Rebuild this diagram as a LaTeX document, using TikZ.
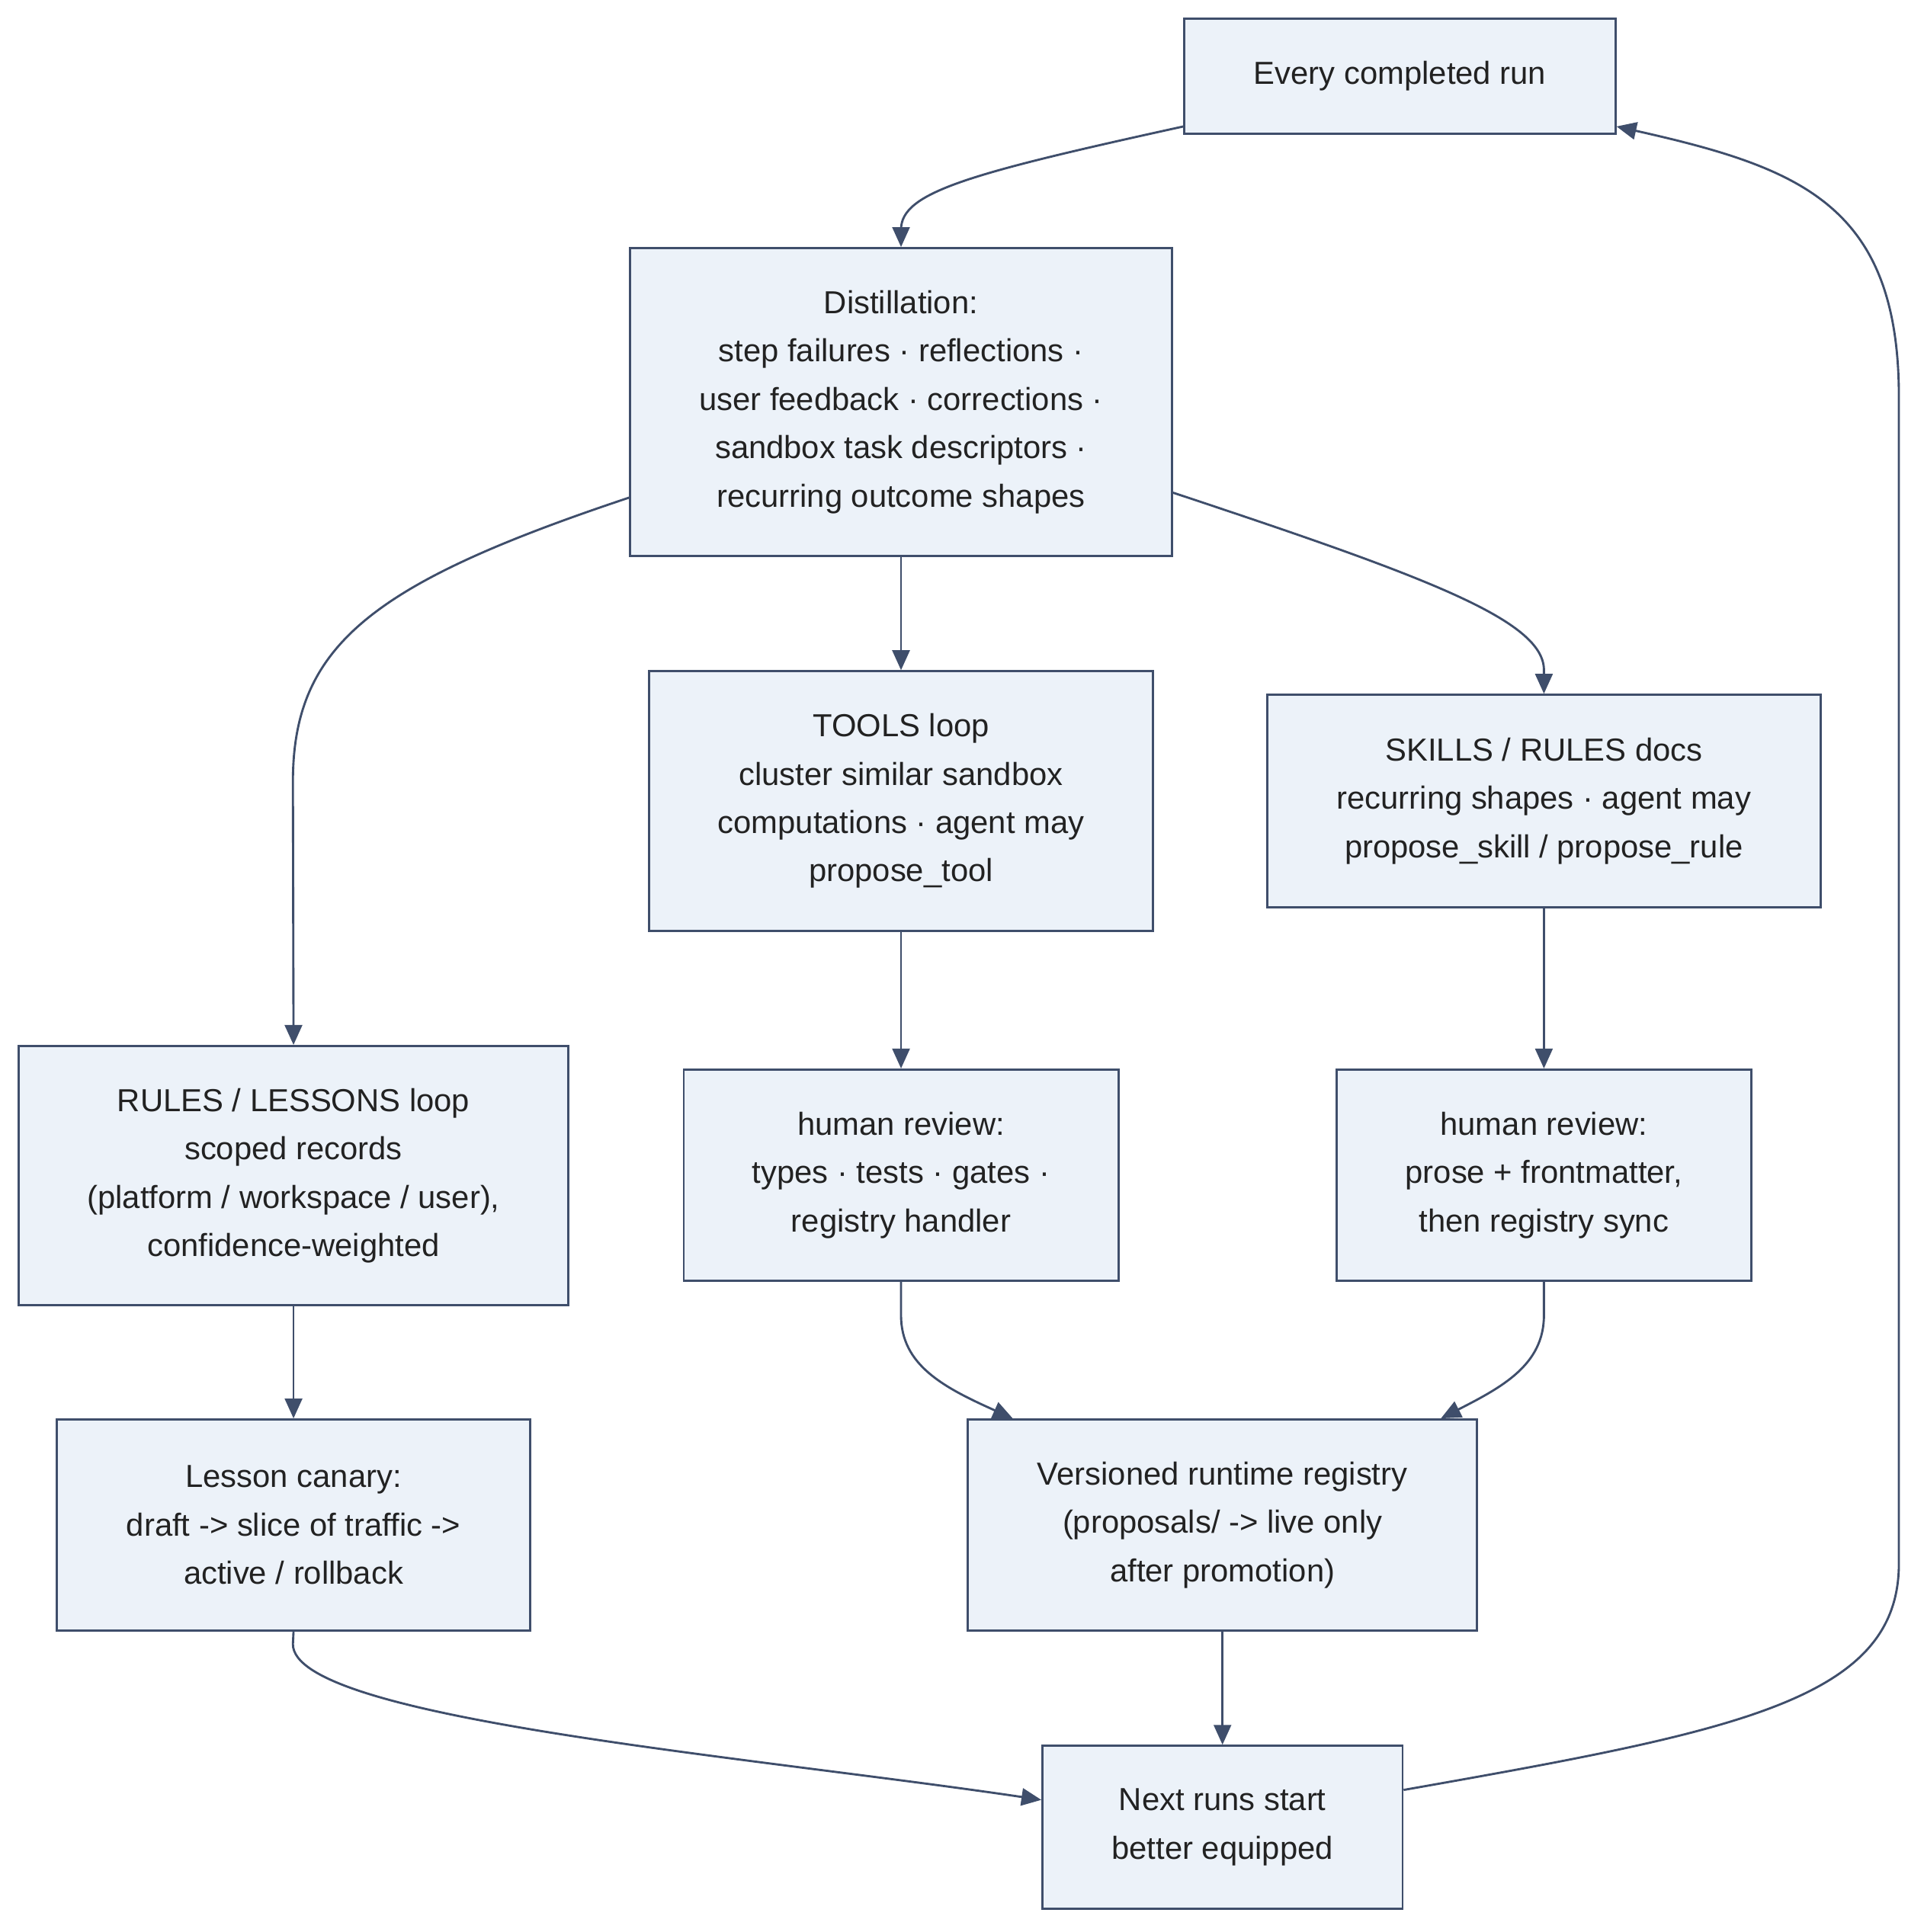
\documentclass[tikz,border=0pt]{standalone}
\usepackage{fontspec}
\setmainfont{Liberation Sans}
\usetikzlibrary{arrows.meta, calc}

\definecolor{boxfill}{HTML}{ECF2F9}
\definecolor{boxline}{HTML}{3F4E6B}
\definecolor{textcol}{HTML}{222222}

\begin{document}
\begin{tikzpicture}[
    x=0.01cm, y=-0.01cm,
    stage/.style={rectangle, draw=boxline, fill=boxfill, line width=0.5pt, text=textcol, align=center, font=\fontsize{7.3}{11.07}\selectfont, inner sep=0pt},
    arrow/.style={-{Triangle[length=1.6mm, width=1.4mm]}, draw=boxline, line width=0.5pt}
]
\useasboundingbox (0,0) rectangle (1550,1557);

% === NODES ===
\node (every) [stage, minimum width=3.47cm, minimum height=0.93cm] at (1128,61.5) {Every completed run};
\node (distill) [stage, minimum width=4.36cm, minimum height=2.48cm] at (726,324) {Distillation:\\step failures · reflections ·\\user feedback · corrections ·\\sandbox task descriptors ·\\recurring outcome shapes};
\node (tools) [stage, minimum width=4.06cm, minimum height=2.09cm] at (726,645.5) {TOOLS loop\\cluster similar sandbox\\computations · agent may\\propose\_tool};
\node (skills) [stage, minimum width=4.46cm, minimum height=1.71cm] at (1244,645.5) {SKILLS / RULES docs\\recurring shapes · agent may\\propose\_skill / propose\_rule};
\node (rules) [stage, minimum width=4.43cm, minimum height=2.09cm] at (236.5,947.5) {RULES / LESSONS loop\\scoped records\\(platform / workspace / user),\\confidence-weighted};
\node (toolreview) [stage, minimum width=3.5cm, minimum height=1.7cm] at (726,947) {human review:\\types · tests · gates ·\\registry handler};
\node (skillreview) [stage, minimum width=3.34cm, minimum height=1.7cm] at (1244,947) {human review:\\prose + frontmatter,\\then registry sync};
\node (canary) [stage, minimum width=3.81cm, minimum height=1.7cm] at (236.5,1229) {Lesson canary:\\draft -> slice of traffic ->\\active / rollback};
\node (registry) [stage, minimum width=4.1cm, minimum height=1.7cm] at (985,1229) {Versioned runtime registry\\(proposals/ -> live only\\after promotion)};
\node (next) [stage, minimum width=2.9cm, minimum height=1.31cm] at (985,1472.5) {Next runs start\\better equipped};

% === ARROWS ===
\draw [arrow] ($(every.south west)+(0,-7)$) .. controls (780,140) and (726,155) .. (726,185) -- (distill.north);
\draw [arrow] ($(distill.west)+(0,77)$) .. controls (300,470) and (236,520) .. (236,630) -- (rules.north);
\draw [arrow] (distill) -- (tools);
\draw [arrow] ($(distill.east)+(0,73)$) .. controls (1150,465) and (1244,500) .. (1244,540) -- (skills.north);
\draw [arrow] (tools) -- (toolreview);
\draw [arrow] (skills) -- (skillreview);
\draw [arrow] (rules) -- (canary);
\draw [arrow] (toolreview.south) -- (726,1060) .. controls (726,1100) and (760,1118) .. ($(registry.north west)+(37,0)$);
\draw [arrow] (skillreview.south) -- (1244,1060) .. controls (1244,1100) and (1210,1118) .. ($(registry.north east)+(-30,0)$);
\draw [arrow] (registry) -- (next);
\draw [arrow] (canary.south) -- (236,1325) .. controls (236,1385) and (600,1415) .. ($(next.west)+(0,-22)$);
\draw [arrow] ($(next.east)+(0,-30)$) .. controls (1400,1395) and (1530,1370) .. (1530,1260) -- (1530,320) .. controls (1530,165) and (1450,135) .. ($(every.south east)+(0,-7)$);

\end{tikzpicture}
\end{document}
